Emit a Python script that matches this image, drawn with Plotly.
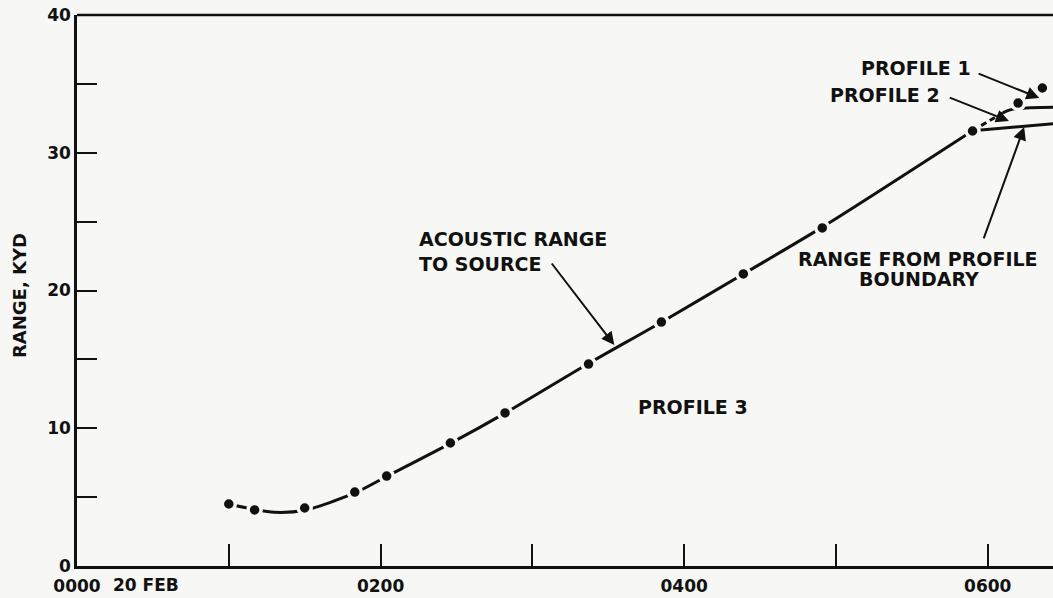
import plotly.graph_objects as go

# hours after 0000 20 FEB, range in kyd
obs_hour = [1.00, 1.17, 1.50, 1.83, 2.04, 2.46, 2.82, 3.37, 3.85, 4.39, 4.91, 5.90, 6.20, 6.36]
obs_range = [4.50, 4.07, 4.21, 5.37, 6.53, 8.93, 11.11, 14.66, 17.71, 21.20, 24.54, 31.58, 33.61, 34.70]

# smoothed acoustic range curve
fit_hour = [1.00, 1.17, 1.30, 1.50, 1.83, 2.04, 2.46, 2.82, 3.37, 3.85, 4.39, 4.91, 5.90]
fit_range = [4.50, 4.10, 3.90, 4.05, 5.30, 6.50, 8.90, 11.10, 14.70, 17.70, 21.20, 24.60, 31.60]

# profile 2 branch (dashed then solid) and range from profile boundary
p2_dash_hour = [5.90, 6.10]
p2_dash_range = [31.60, 32.90]
p2_hour = [6.10, 6.16, 6.43]
p2_range = [32.90, 33.15, 33.30]
bound_hour = [5.90, 6.43]
bound_range = [31.60, 32.10]

x_ticks = [0, 1, 2, 3, 4, 5, 6]
x_labels = ["0000", "", "0200", "", "0400", "", "0600"]
y_ticks = [0, 5, 10, 15, 20, 25, 30, 35, 40]
y_labels = ["0", "", "10", "", "20", "", "30", "", "40"]

BG = "#f7f7f5"
INK = "#111111"
FONT = "DejaVu Sans"

fig = go.Figure()
fig.add_trace(go.Scatter(x=fit_hour, y=fit_range, mode="lines",
                         line=dict(color=INK, width=3, shape="spline", smoothing=0.8)))
fig.add_trace(go.Scatter(x=p2_dash_hour, y=p2_dash_range, mode="lines",
                         line=dict(color=INK, width=3, dash="6px,4px")))
fig.add_trace(go.Scatter(x=p2_hour, y=p2_range, mode="lines",
                         line=dict(color=INK, width=3, shape="spline")))
fig.add_trace(go.Scatter(x=bound_hour, y=bound_range, mode="lines",
                         line=dict(color=INK, width=3)))
fig.add_trace(go.Scatter(x=obs_hour, y=obs_range, mode="markers",
                         marker=dict(color=INK, size=13, line=dict(color=BG, width=3.5))))

# top border of the frame
fig.add_shape(type="line", xref="paper", yref="paper", x0=0, x1=1, y0=1, y1=1,
              line=dict(color=INK, width=2.5))

txt = dict(family=FONT, size=19, color=INK, weight="bold")

def label(x, y, text, xanchor="center", align="center"):
    fig.add_annotation(x=x, y=y, text=text, showarrow=False, font=txt,
                       xanchor=xanchor, yanchor="middle", align=align)

def arrow(x0, y0, x1, y1):
    fig.add_annotation(x=x1, y=y1, ax=x0, ay=y0, axref="x", ayref="y", text="",
                       showarrow=True, arrowhead=2, arrowsize=1.3, arrowwidth=2,
                       arrowcolor=INK)

label(2.24, 22.85, "ACOUSTIC RANGE<br>TO SOURCE", xanchor="left", align="left")
label(4.06, 11.54, "PROFILE 3")
label(5.90, 36.15, "PROFILE 1", xanchor="right")
label(5.70, 34.19, "PROFILE 2", xanchor="right")
label(4.74, 22.29, "RANGE FROM PROFILE", xanchor="left")
label(5.55, 20.83, "BOUNDARY")

arrow(3.12, 22.07, 3.54, 16.04)
arrow(5.93, 35.79, 6.34, 33.97)
arrow(5.74, 34.05, 6.14, 32.30)
arrow(5.97, 23.67, 6.24, 31.87)

fig.add_annotation(x=0.224, y=0, xref="x", yref="paper", text="20 FEB", showarrow=False,
                   font=dict(family=FONT, size=17, color=INK, weight="bold"),
                   xanchor="left", yanchor="middle", yshift=-19)

# y axis title, placed by hand close to the tick labels
fig.add_annotation(x=0, y=0.49, xref="paper", yref="paper", text="RANGE, KYD",
                   showarrow=False, textangle=-90, xshift=-58,
                   font=dict(family=FONT, size=18, color=INK, weight="bold"),
                   xanchor="center", yanchor="middle")

fig.update_layout(
    width=1053, height=598,
    margin=dict(l=77, r=0, t=15, b=32),
    paper_bgcolor=BG, plot_bgcolor=BG,
    showlegend=False,
    font=dict(family=FONT, size=17, color=INK, weight="bold"),
)
fig.update_xaxes(range=[0, 6.43], tickvals=x_ticks, ticktext=x_labels,
                 ticks="inside", ticklen=22, tickwidth=2, tickcolor=INK,
                 ticklabelstandoff=3,
                 showline=True, linewidth=2.5, linecolor=INK,
                 showgrid=False, zeroline=False)
fig.update_yaxes(range=[0, 40], tickvals=y_ticks, ticktext=y_labels,
                 ticks="inside", ticklen=20, tickwidth=2, tickcolor=INK,
                 showline=True, linewidth=2.5, linecolor=INK,
                 showgrid=False, zeroline=False)

# drop the default page margin so the figure sits at the window's corner
fig.write_html("out.html", config={"displayModeBar": False},
               post_script="document.body.style.margin='0';"
                           "document.body.style.background='#f7f7f5';")
